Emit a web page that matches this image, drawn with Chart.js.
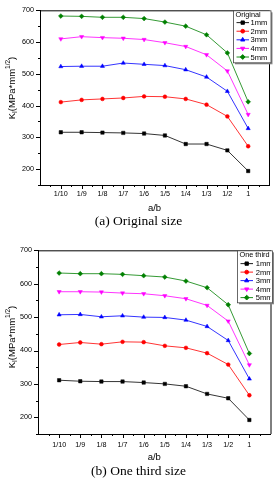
<!DOCTYPE html>
<html>
<head>
<meta charset="utf-8">
<script src="https://cdn.jsdelivr.net/npm/chart.js@4"></script>
<style>
  body { margin: 0; background: #fff; width: 277px; height: 480px; position: relative; overflow: hidden; }
  .box { position: absolute; left: 0; width: 277px; height: 240px; }
  .cap { position: absolute; left: 0; width: 277px; text-align: center; color: #000; line-height: 1;
         font-family: "Liberation Serif", "Times New Roman", serif; font-size: 13.5px; }
</style>
</head>
<body>
<div class="box" style="top:0"><canvas id="chartA" width="277" height="240"></canvas></div>
<div class="box" style="top:240px"><canvas id="chartB" width="277" height="240"></canvas></div>
<div class="cap" style="top:214px">(a) Original size</div>
<div class="cap" style="top:464px">(b) One third size</div>
<script>
// a/b categories and crack sizes
const ratios = ['1/10', '1/9', '1/8', '1/7', '1/6', '1/5', '1/4', '1/3', '1/2', '1'];
const sizes = ['1mm', '2mm', '3mm', '4mm', '5mm'];
const yLabels = [200, 300, 400, 500, 600, 700];

// (a) original size, K_I values
const orig1 = [316, 316, 315, 314, 312, 306, 279, 279, 259, 194];
const orig2 = [411, 418, 421, 424, 429, 428, 421, 403, 366, 272];
const orig3 = [523, 524, 524, 534, 530, 526, 513, 490, 445, 328];
const orig4 = [610, 617, 614, 612, 608, 598, 586, 560, 509, 372];
const orig5 = [682, 681, 678, 678, 674, 663, 650, 623, 566, 412];

// (b) one third size
const third1 = [311, 308, 307, 307, 304, 300, 293, 270, 257, 192];
const third2 = [418, 424, 419, 426, 425, 414, 408, 392, 358, 266];
const third3 = [507, 508, 501, 504, 500, 499, 491, 472, 430, 315];
const third4 = [576, 576, 575, 572, 570, 564, 555, 535, 488, 357];
const third5 = [632, 630, 630, 628, 624, 620, 608, 588, 537, 391];

const colors = ['#000000', '#ff0000', '#0000ff', '#ff00ff', '#008000'];
const markers = ['rect', 'circle', 'triangle', 'triangle', 'rectRot'];
const rotations = [0, 0, 0, 180, 0];
const radii = [2.4, 1.9, 2.4, 2.4, 2.4];

const sansFont = '"Liberation Sans", Arial, sans-serif';

function makeSets(series) {
  return series.map((vals, i) => ({
    label: sizes[i],
    data: vals.map((v, k) => ({ x: k + 1, y: v })),
    borderColor: colors[i],
    backgroundColor: colors[i],
    borderWidth: 0.8,
    pointStyle: markers[i],
    rotation: rotations[i],
    pointRadius: radii[i],
    pointBorderWidth: 0.5,
    tension: 0
  }));
}

function drawMarker(ctx, i, x, y) {
  Chart.helpers.drawPoint(ctx, {
    pointStyle: markers[i], rotation: rotations[i], radius: radii[i], borderWidth: 0.5
  }, x, y);
}

function extras(g) {
  return {
    id: 'extras',
    afterDraw(chart) {
      const ctx = chart.ctx;
      const a = chart.chartArea;
      const xs = chart.scales.x, ys = chart.scales.y;
      ctx.save();
      ctx.strokeStyle = '#000';
      ctx.lineWidth = 1;
      // frame top and right
      ctx.beginPath();
      ctx.moveTo(a.left, a.top + 0.5);
      ctx.lineTo(a.right + 0.5, a.top + 0.5);
      ctx.lineTo(a.right + 0.5, a.bottom);
      ctx.stroke();
      // tick marks
      ctx.beginPath();
      for (let v = 150; v <= 700; v += 50) {
        const p = Math.round(ys.getPixelForValue(v)) + 0.5;
        const len = v % 100 === 0 ? 4 : 2;
        ctx.moveTo(a.left - len, p);
        ctx.lineTo(a.left, p);
      }
      for (let v = 0.5; v <= 10.5; v += 0.5) {
        const p = Math.round(xs.getPixelForValue(v)) + 0.5;
        const len = Number.isInteger(v) ? 4 : 2;
        ctx.moveTo(p, a.bottom);
        ctx.lineTo(p, a.bottom + len);
      }
      ctx.stroke();

      // x title
      ctx.fillStyle = '#000';
      ctx.font = '9.5px ' + sansFont;
      ctx.textAlign = 'center';
      ctx.textBaseline = 'middle';
      ctx.fillText('a/b', (a.left + a.right) / 2, g.xTitleY);

      // y title with subscript / superscript
      ctx.save();
      ctx.translate(g.yTitleX, g.yTitleY);
      ctx.rotate(-Math.PI / 2);
      ctx.textAlign = 'left';
      ctx.textBaseline = 'alphabetic';
      const big = '9.5px ' + sansFont, small = '6.5px ' + sansFont;
      const parts = [['K', big, 0], ['I', small, 2], ['(MPa*mm', big, 0], ['1/2', small, -4.5], [')', big, 0]];
      let total = 0;
      parts.forEach(p => { ctx.font = p[1]; total += ctx.measureText(p[0]).width; });
      let cx = -total / 2;
      parts.forEach(p => {
        ctx.font = p[1];
        ctx.fillText(p[0], cx, 3.5 + p[2]);
        cx += ctx.measureText(p[0]).width;
      });
      ctx.restore();

      // legend box inside top-right corner
      const lx = g.legX, ly = a.top + 0.5, lw = a.right - g.legX + 2, lh = g.legH;
      ctx.fillStyle = '#888';
      ctx.fillRect(lx + 1.5, ly + 1.5, lw, lh);
      ctx.fillStyle = '#fff';
      ctx.fillRect(lx, ly, lw, lh);
      ctx.strokeStyle = '#444';
      ctx.lineWidth = 0.8;
      ctx.strokeRect(lx, ly, lw, lh);
      ctx.beginPath();
      ctx.rect(lx, ly, a.right - lx, lh + 3);
      ctx.clip();
      ctx.fillStyle = '#000';
      ctx.font = '7.3px ' + sansFont;
      ctx.textAlign = 'left';
      ctx.textBaseline = 'middle';
      ctx.fillText(g.legTitle, lx + 2, a.top + g.legTitleDy);
      sizes.forEach((s, i) => {
        const yy = a.top + g.legRowDy + i * g.legStep;
        ctx.strokeStyle = colors[i];
        ctx.lineWidth = 0.9;
        ctx.beginPath();
        ctx.moveTo(lx + 3, yy);
        ctx.lineTo(lx + 15.5, yy);
        ctx.stroke();
        ctx.fillStyle = colors[i];
        ctx.strokeStyle = colors[i];
        drawMarker(ctx, i, lx + 9.2, yy);
        ctx.fillStyle = '#000';
        ctx.font = '7.6px ' + sansFont;
        ctx.fillText(s, lx + g.legTextDx, yy + 0.5);
      });
      ctx.restore();
    }
  };
}

function makeChart(id, series, g) {
  new Chart(document.getElementById(id), {
    type: 'line',
    data: { datasets: makeSets(series) },
    options: {
      responsive: false,
      animation: false,
      layout: { padding: { left: 0, top: g.top, right: g.right, bottom: 0 } },
      plugins: { legend: { display: false }, tooltip: { enabled: false } },
      scales: {
        x: {
          type: 'linear', min: 0, max: 11,
          grid: { display: false, drawTicks: false },
          border: { display: true, color: '#000', width: 1 },
          ticks: {
            stepSize: 1, autoSkip: false, maxRotation: 0, padding: g.xPad,
            color: '#000', font: { family: sansFont, size: 7.2 },
            callback: v => ratios[v - 1] || ''
          },
          afterFit: s => { s.height = g.xHeight; }
        },
        y: {
          min: 150, max: 700,
          grid: { display: false, drawTicks: false },
          border: { display: true, color: '#000', width: 1 },
          ticks: {
            stepSize: 50, autoSkip: false, padding: 6,
            color: '#000', font: { family: sansFont, size: 7.2 },
            callback: v => yLabels.includes(v) ? v : ''
          },
          afterFit: s => { s.width = g.yWidth; }
        }
      }
    },
    plugins: [extras(g)]
  });
}

makeChart('chartA', [orig1, orig2, orig3, orig4, orig5], {
  top: 4, right: 8, yWidth: 40, xHeight: 55, xPad: 5,
  xTitleY: 208, yTitleX: 11, yTitleY: 88,
  legX: 233.5, legH: 52, legTitle: 'Original', legTitleDy: 5, legRowDy: 12.3, legStep: 8.6, legTextDx: 17
});

makeChart('chartB', [third1, third2, third3, third4, third5], {
  top: 10, right: 4, yWidth: 38, xHeight: 46, xPad: 6.5,
  xTitleY: 217, yTitleX: 11, yTitleY: 97,
  legX: 237.5, legH: 52, legTitle: 'One third', legTitleDy: 4.7, legRowDy: 13.3, legStep: 8.5, legTextDx: 18.3
});
</script>
</body>
</html>
